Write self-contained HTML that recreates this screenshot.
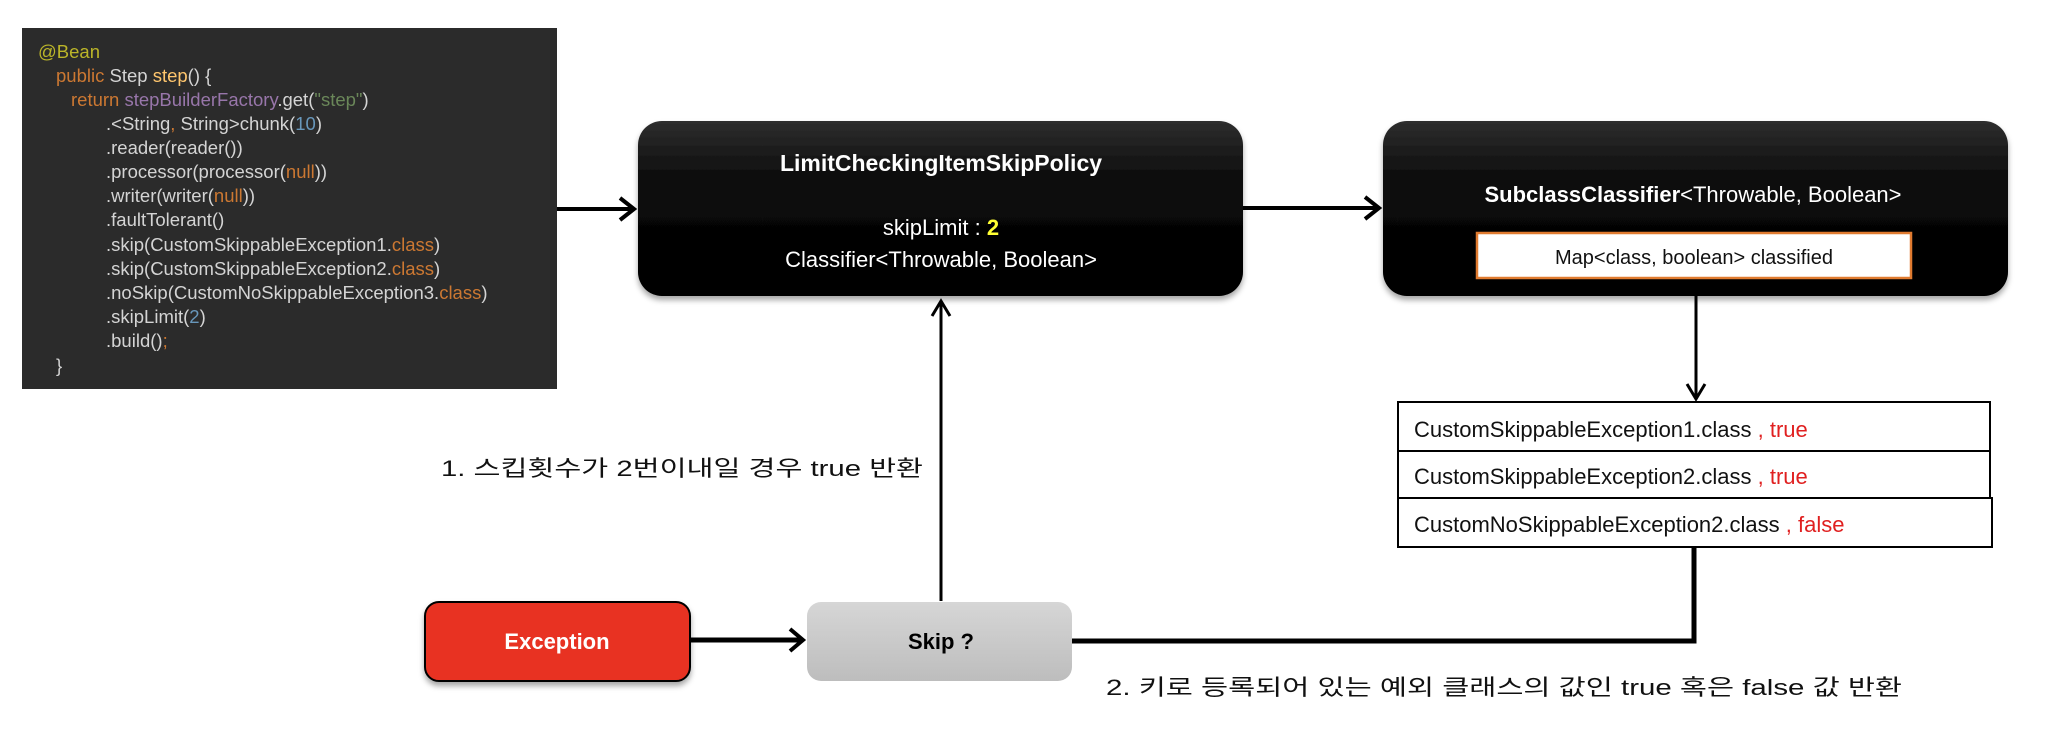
<!DOCTYPE html>
<html><head><meta charset="utf-8"><style>
html,body{margin:0;padding:0;background:#fff;}
svg{display:block;}
text{font-family:"Liberation Sans","Noto Sans CJK KR",sans-serif;}
</style></head><body>
<svg width="2056" height="756" viewBox="0 0 2056 756" xmlns="http://www.w3.org/2000/svg">
<defs>
<linearGradient id="blk" x1="0" y1="0" x2="0" y2="1">
<stop offset="0" stop-color="#2e2e2e"/><stop offset="0.35" stop-color="#0a0a0a"/><stop offset="1" stop-color="#000"/>
</linearGradient>
<linearGradient id="gry" x1="0" y1="0" x2="0" y2="1">
<stop offset="0" stop-color="#d6d6d6"/><stop offset="1" stop-color="#bdbdbd"/>
</linearGradient>
<filter id="sh" x="-10%" y="-10%" width="120%" height="130%">
<feDropShadow dx="0" dy="4" stdDeviation="3" flood-color="#000" flood-opacity="0.35"/>
</filter>
</defs>

<rect x="22" y="28" width="535" height="361" fill="#2b2b2b"/>
<g font-size="18.5" fill="#d4d4d4">
<text x="38" y="58" fill="#bbb529">@Bean</text>
<text x="56" y="82"><tspan fill="#cc7832">public</tspan> Step <tspan fill="#ffc66d">step</tspan>() {</text>
<text x="71" y="106"><tspan fill="#cc7832">return</tspan> <tspan fill="#9876aa">stepBuilderFactory</tspan>.get(<tspan fill="#6a8759">"step"</tspan>)</text>
<text x="106" y="130">.&lt;String<tspan fill="#cc7832">,</tspan> String&gt;chunk(<tspan fill="#6897bb">10</tspan>)</text>
<text x="106" y="154">.reader(reader())</text>
<text x="106" y="178">.processor(processor(<tspan fill="#cc7832">null</tspan>))</text>
<text x="106" y="202">.writer(writer(<tspan fill="#cc7832">null</tspan>))</text>
<text x="106" y="226">.faultTolerant()</text>
<text x="106" y="251">.skip(CustomSkippableException1.<tspan fill="#cc7832">class</tspan>)</text>
<text x="106" y="275">.skip(CustomSkippableException2.<tspan fill="#cc7832">class</tspan>)</text>
<text x="106" y="299">.noSkip(CustomNoSkippableException3.<tspan fill="#cc7832">class</tspan>)</text>
<text x="106" y="323">.skipLimit(<tspan fill="#6897bb">2</tspan>)</text>
<text x="106" y="347">.build()<tspan fill="#cc7832">;</tspan></text>
<text x="56" y="372">}</text>
</g>

<g stroke="#000" fill="none" stroke-linecap="butt">
<line x1="557" y1="209" x2="633" y2="209" stroke-width="4"/>
<polyline points="620,198 634,209 620,220" stroke-width="4"/>
<line x1="1243" y1="208" x2="1378" y2="208" stroke-width="4"/>
<polyline points="1365,197 1379,208 1365,219" stroke-width="4"/>
<line x1="1696" y1="278" x2="1696" y2="398" stroke-width="3"/>
<polyline points="1687,384 1696,399 1705,384" stroke-width="3"/>
<line x1="941" y1="601" x2="941" y2="302" stroke-width="3"/>
<polyline points="932,316 941,301 950,316" stroke-width="3"/>
<line x1="690" y1="640" x2="802" y2="640" stroke-width="5"/>
<polyline points="790,629 803,640 790,651" stroke-width="4"/>
<polyline points="1072,641 1694,641 1694,547" stroke-width="5"/>
</g>

<rect x="638" y="121" width="605" height="175" rx="24" fill="url(#blk)" filter="url(#sh)"/>
<text x="941" y="171" font-size="23" font-weight="bold" fill="#fff" text-anchor="middle">LimitCheckingItemSkipPolicy</text>
<text x="941" y="235" font-size="22" fill="#fff" text-anchor="middle">skipLimit : <tspan fill="#ffff33" font-weight="bold">2</tspan></text>
<text x="941" y="267" font-size="22" fill="#fff" text-anchor="middle">Classifier&lt;Throwable,  Boolean&gt;</text>

<rect x="1383" y="121" width="625" height="175" rx="24" fill="url(#blk)" filter="url(#sh)"/>
<text x="1693" y="202" font-size="22" fill="#fff" text-anchor="middle"><tspan font-weight="bold">SubclassClassifier</tspan>&lt;Throwable, Boolean&gt;</text>
<rect x="1477" y="233" width="434" height="45" fill="#fff" stroke="#e07b30" stroke-width="2.5"/>
<text x="1694" y="264" font-size="20" fill="#111" text-anchor="middle">Map&lt;class, boolean&gt; classified</text>

<g stroke="#000" stroke-width="2" fill="#fff">
<rect x="1398" y="402" width="592" height="49"/>
<rect x="1398" y="451" width="592" height="47"/>
<rect x="1398" y="498" width="594" height="49"/>
</g>
<g font-size="22" fill="#111">
<text x="1414" y="437">CustomSkippableException1.class <tspan fill="#e02020">, true</tspan></text>
<text x="1414" y="484">CustomSkippableException2.class <tspan fill="#e02020">, true</tspan></text>
<text x="1414" y="532">CustomNoSkippableException2.class <tspan fill="#e02020">, false</tspan></text>
</g>

<rect x="425" y="602" width="265" height="79" rx="14" fill="#e83323" stroke="#000" stroke-width="2" filter="url(#sh)"/>
<text x="557" y="649" font-size="22" font-weight="bold" fill="#fff" text-anchor="middle">Exception</text>
<rect x="807" y="602" width="265" height="79" rx="14" fill="url(#gry)"/>
<text x="941" y="649" font-size="22" font-weight="bold" fill="#000" text-anchor="middle">Skip ?</text>

<text x="441" y="476" font-size="22" fill="#111" textLength="482" lengthAdjust="spacingAndGlyphs">1. 스킵횟수가 2번이내일 경우 true 반환</text>
<text x="1106" y="695" font-size="22" fill="#111" textLength="796" lengthAdjust="spacingAndGlyphs">2. 키로 등록되어 있는 예외 클래스의 값인 true 혹은 false 값 반환</text>
</svg>
</body></html>
